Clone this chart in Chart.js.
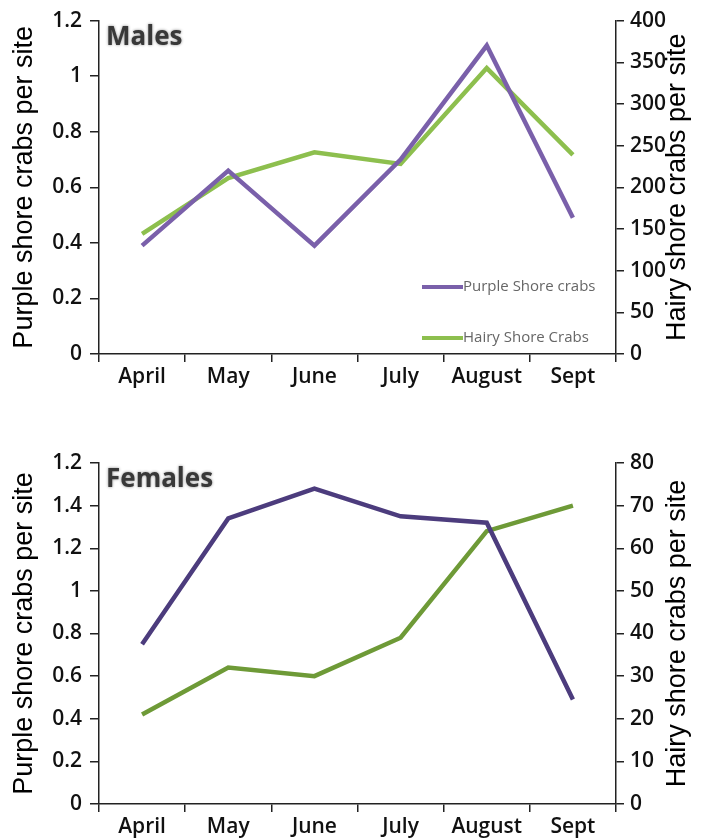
<!DOCTYPE html>
<html>
<head>
<meta charset="utf-8">
<script src="https://cdn.jsdelivr.net/npm/chart.js@4"></script>
<style>
  body { margin: 0; background: #fff; width: 705px; height: 838px; overflow: hidden; position: relative; }
  canvas { position: absolute; left: 0; }
  #males { top: 0; }
  #females { top: 430px; }
</style>
</head>
<body>
<canvas id="males" width="705" height="420"></canvas>
<canvas id="females" width="705" height="408"></canvas>
<script>
// data
const months = ["April", "May", "June", "July", "August", "Sept"];

const malePurple = [0.39, 0.66, 0.39, 0.70, 1.11, 0.49];
const maleHairy = [144, 211, 242, 228, 343, 239];

const femalePurple = [0.75, 1.34, 1.48, 1.35, 1.32, 0.49];
const femaleHairy = [21, 32, 30, 39, 64, 70];

const maleLeftTicks = ["0", "0.2", "0.4", "0.6", "0.8", "1", "1.2"];
const maleRightTicks = ["0", "50", "100", "150", "200", "250", "300", "350", "400"];
// the original's top label really reads 1.2 again
const femaleLeftTicks = ["0", "0.2", "0.4", "0.6", "0.8", "1", "1.2", "1.4", "1.2"];
const femaleRightTicks = ["0", "10", "20", "30", "40", "50", "60", "70", "80"];

const legendNames = ["Purple Shore crabs", "Hairy Shore Crabs"];
const leftTitle = "Purple shore crabs per site";
const rightTitle = "Hairy shore crabs per site";

const tickFont = { family: "'Open Sans'", size: 21, weight: "600" };
const titleFont = { family: "'Liberation Sans', Arial", size: 27 };

// panel label, right title (reads bottom to top) + in-plot legend
const panelPlugin = {
  id: "panel",
  afterDraw(chart, args, opts) {
    const ctx = chart.ctx;
    const a = chart.chartArea;
    ctx.save();
    ctx.font = "bold 26px 'Open Sans'";
    ctx.fillStyle = "#383838";
    ctx.shadowColor = "rgba(0,0,0,0.45)";
    ctx.shadowBlur = 3;
    ctx.textBaseline = "middle";
    ctx.fillText(opts.label, a.left + 7, a.top + 17);
    ctx.restore();

    ctx.save();
    ctx.translate(a.right + 62, (a.top + a.bottom) / 2);
    ctx.rotate(-Math.PI / 2);
    ctx.font = "27px 'Liberation Sans', Arial";
    ctx.fillStyle = "#000";
    ctx.textAlign = "center";
    ctx.textBaseline = "middle";
    ctx.fillText(rightTitle, 0, 0);
    ctx.restore();

    if (!opts.legend) return;
    ctx.save();
    const ys = [a.bottom - 67, a.bottom - 16];
    chart.data.datasets.forEach(function (ds, i) {
      const x0 = a.right - 194;
      ctx.strokeStyle = ds.borderColor;
      ctx.lineWidth = 4;
      ctx.beginPath();
      ctx.moveTo(x0, ys[i]);
      ctx.lineTo(x0 + 41, ys[i]);
      ctx.stroke();
      ctx.font = "15px 'Open Sans'";
      ctx.fillStyle = "#666";
      ctx.textBaseline = "middle";
      ctx.fillText(legendNames[i], x0 + 41, ys[i]);
    });
    ctx.restore();
  }
};

function makeChart(id, opt) {
  const axisLine = { display: true, color: "#222", width: 1.5 };
  const config = {
    type: "line",
    data: {
      labels: months,
      datasets: [
        {
          label: legendNames[0],
          data: opt.purple,
          borderColor: opt.purpleColor,
          backgroundColor: opt.purpleColor,
          borderWidth: 4.5,
          pointRadius: 0,
          yAxisID: "y",
        },
        {
          label: legendNames[1],
          data: opt.hairy,
          borderColor: opt.greenColor,
          backgroundColor: opt.greenColor,
          borderWidth: 4.5,
          pointRadius: 0,
          yAxisID: "y2",
        },
      ],
    },
    options: {
      responsive: false,
      animation: false,
      devicePixelRatio: 1,
      layout: { padding: { top: opt.top, left: 0, right: 0, bottom: 0 } },
      plugins: {
        legend: { display: false },
        tooltip: { enabled: false },
        panel: { label: opt.label, legend: opt.legend },
      },
      scales: {
        x: {
          offset: true,
          grid: { offset: true, drawOnChartArea: false, drawTicks: true, tickLength: 8, color: "#222", lineWidth: 1.5 },
          border: axisLine,
          ticks: { font: tickFont, color: "#111", padding: 2, maxRotation: 0 },
          afterFit: function (s) { s.height = opt.xHeight; },
        },
        y: {
          position: "left",
          min: 0,
          max: opt.leftMax,
          ticks: {
            stepSize: opt.leftStep,
            font: tickFont,
            color: "#111",
            padding: 8,
            callback: function (v, i) { return opt.leftTicks[i]; },
          },
          grid: { drawOnChartArea: false, drawTicks: true, tickLength: 9, color: "#222", lineWidth: 1.5 },
          border: axisLine,
          title: { display: true, text: leftTitle, font: titleFont, color: "#000", padding: { top: 8, bottom: 0 } },
          afterFit: function (s) { s.width = 99; },
        },
        y2: {
          position: "right",
          min: 0,
          max: opt.rightMax,
          ticks: {
            stepSize: opt.rightStep,
            font: tickFont,
            color: "#111",
            padding: 6,
            callback: function (v, i) { return opt.rightTicks[i]; },
          },
          grid: { drawOnChartArea: false, drawTicks: true, tickLength: 8, color: "#222", lineWidth: 1.5 },
          border: axisLine,
          afterFit: function (s) { s.width = 89; },
        },
      },
    },
    plugins: [panelPlugin],
  };
  return new Chart(document.getElementById(id), config);
}

makeChart("males", {
  label: "Males",
  legend: true,
  purple: malePurple,
  hairy: maleHairy,
  purpleColor: "#7a60aa",
  greenColor: "#8dbf4e",
  leftMax: 1.2,
  leftStep: 0.2,
  leftTicks: maleLeftTicks,
  rightMax: 400,
  rightStep: 50,
  rightTicks: maleRightTicks,
  top: 17,
  xHeight: 66,
});

makeChart("females", {
  label: "Females",
  legend: false,
  purple: femalePurple,
  hairy: femaleHairy,
  purpleColor: "#4c3c7d",
  greenColor: "#6e9a37",
  leftMax: 1.6,
  leftStep: 0.2,
  leftTicks: femaleLeftTicks,
  rightMax: 80,
  rightStep: 10,
  rightTicks: femaleRightTicks,
  top: 33,
  xHeight: 34,
});
</script>
</body>
</html>
